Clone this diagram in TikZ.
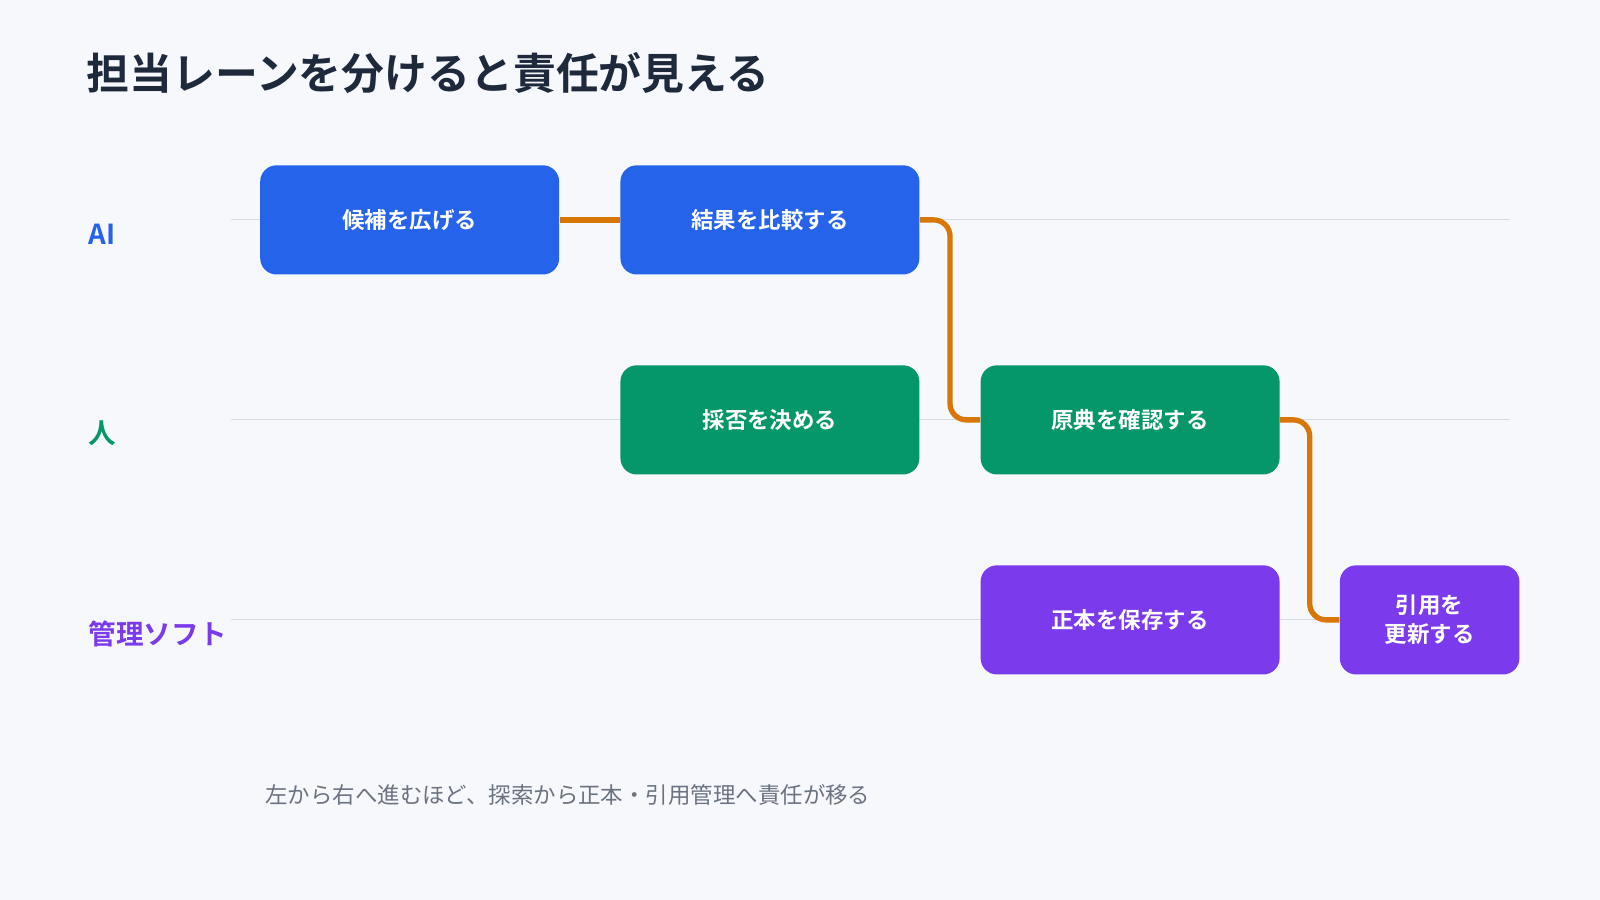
\documentclass[tikz,border=0pt]{standalone}
\usepackage{fontspec}
\setmainfont{Noto Sans CJK JP}
\newfontfamily\cjkb{Noto Sans CJK JP}[BoldFont={Noto Sans CJK JP Bold}]
\usetikzlibrary{calc}
\definecolor{bg}{HTML}{F6F8FB}
\definecolor{cblue}{HTML}{2563EB}
\definecolor{cgreen}{HTML}{059669}
\definecolor{cpurple}{HTML}{7C3AED}
\definecolor{corange}{HTML}{D97706}
\definecolor{lane}{HTML}{D6DAE3}
\definecolor{ctitle}{HTML}{1E293B}
\definecolor{ccap}{HTML}{6B7280}
\begin{document}
\begin{tikzpicture}[x=0.5pt,y=-0.5pt,
  box/.style={rounded corners=8pt,minimum height=53.5pt,text=white,font=\cjkb\fontsize{11}{14}\selectfont\bfseries,align=center,inner sep=0pt},
  wide/.style={box,minimum width=146.5pt},
  lanel/.style={line width=0.8pt,draw=lane},
  lab/.style={anchor=west,font=\cjkb\fontsize{13.5}{16}\selectfont\bfseries},
  conn/.style={draw=corange,line width=2.6pt,rounded corners=8pt}]
\fill[bg] (0,0) rectangle (1568,882);
\useasboundingbox (0,0) rectangle (1568,882);
\node[anchor=west,text=ctitle,font=\cjkb\fontsize{21}{24}\selectfont\bfseries] (title) at (78,72) {担当レーンを分けると責任が見える};
\coordinate (l1a) at (226,215); \coordinate (l1b) at (1480,215);
\coordinate (l2a) at (226,411); \coordinate (l2b) at (1480,411);
\coordinate (l3a) at (226,607); \coordinate (l3b) at (1480,607);
\draw[lanel] (l1a) -- (l1b);
\draw[lanel] (l2a) -- (l2b);
\draw[lanel] (l3a) -- (l3b);
\node[lab,text=cblue] (la) at (80,230) {AI};
\node[lab,text=cgreen] (lh) at (80,425) {人};
\node[lab,text=cpurple] (ls) at (80,621) {管理ソフト};
\node[wide,fill=cblue] (b1) at (401.5,215.5) {候補を広げる};
\node[wide,fill=cblue] (b2) at (754.5,215.5) {結果を比較する};
\node[wide,fill=cgreen] (b3) at (754.5,411.5) {採否を決める};
\node[wide,fill=cgreen] (b4) at (1107.5,411.5) {原典を確認する};
\node[wide,fill=cpurple] (b5) at (1107.5,607.5) {正本を保存する};
\node[box,fill=cpurple,minimum width=88pt] (b6) at (1401,607.5) {引用を\\更新する};
\draw[conn] (b1.east) -- (b2.west);
\coordinate (m1) at ($(b2.east)!0.5!(b4.west)$);
\coordinate (m2) at ($(b4.east)!0.5!(b6.west)$);
\draw[conn] (b2.east) -| (m1) |- (b4.west);
\draw[conn] (b4.east) -| (m2) |- (b6.west);
\node[anchor=west,text=ccap,font=\fontsize{11}{14}\selectfont] (cap) at (253,779) {左から右へ進むほど、探索から正本・引用管理へ責任が移る};
\end{tikzpicture}
\end{document}
